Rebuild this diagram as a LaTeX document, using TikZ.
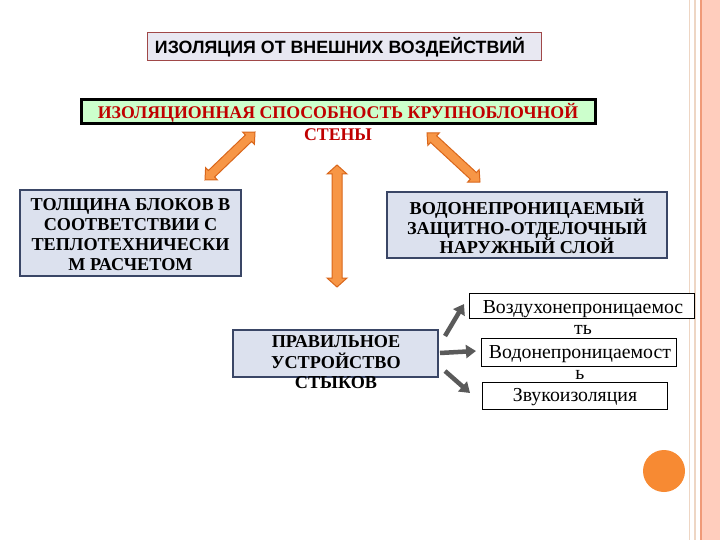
\documentclass[tikz,border=0pt]{standalone}
\usepackage{fontspec}
\setmainfont{Liberation Serif}
\newfontfamily\titlefont{Liberation Sans}
\usetikzlibrary{arrows.meta,calc}
\definecolor{titlefill}{HTML}{E8E8F2}
\definecolor{titleborder}{HTML}{A04848}
\definecolor{mainfill}{HTML}{CCFFCC}
\definecolor{maintext}{HTML}{C00000}
\definecolor{bluefill}{HTML}{DCE1EE}
\definecolor{blueborder}{HTML}{3A4666}
\definecolor{orfill}{HTML}{F79646}
\definecolor{ordraw}{HTML}{D9661A}
\definecolor{greyarrow}{HTML}{5A5A5A}
\definecolor{stripefill}{HTML}{FFCDBD}
\definecolor{stripeline}{HTML}{F09A78}
\definecolor{stripethin}{HTML}{EED6C4}
\definecolor{circlefill}{HTML}{F78A33}
\newcommand{\blockarrow}[4]{% from, to, half head width, half shaft width
  \draw[orarrow] (#1) -- ($(#1)!9pt!(#2)!#3!90:(#2)$) -- ($(#1)!9pt!(#2)!#4!90:(#2)$)
   -- ($(#2)!9pt!(#1)!#4!-90:(#1)$) -- ($(#2)!9pt!(#1)!#3!-90:(#1)$) -- (#2)
   -- ($(#2)!9pt!(#1)!#3!90:(#1)$) -- ($(#2)!9pt!(#1)!#4!90:(#1)$)
   -- ($(#1)!9pt!(#2)!#4!-90:(#2)$) -- ($(#1)!9pt!(#2)!#3!-90:(#2)$) -- cycle;}
\begin{document}
\begin{tikzpicture}[x=1pt,y=-1pt,
  titlebox/.style={draw=titleborder, line width=1pt, fill=titlefill, inner sep=0pt},
  mainbox/.style={draw=black, line width=3pt, fill=mainfill, inner sep=0pt},
  bluebox/.style={draw=blueborder, line width=1.2pt, fill=bluefill, inner sep=0pt},
  smallbox/.style={draw=black, line width=0.9pt, fill=white, inner sep=0pt},
  boldtext/.style={inner sep=0pt, align=center, font=\fontsize{18.2}{19.8}\selectfont\bfseries},
  smalltext/.style={inner sep=0pt, align=center, font=\fontsize{19.8}{21}\selectfont},
  orarrow/.style={draw=ordraw, line width=1pt, fill=orfill, line join=miter},
  greyconn/.style={draw=greyarrow, line width=4.5pt, -{Triangle[width=13pt,length=10pt]}}]
\useasboundingbox (0,0) rectangle (720,540);
\fill[white] (0,0) rectangle (720,540);
% right decoration
\fill[stripefill] (702,0) rectangle (720,540);
\draw[stripeline, line width=1.5pt] (701,0) -- (701,540);
\draw[stripethin, line width=1pt] (689,0) -- (689,540);
\draw[stripethin, line width=2pt] (694.5,0) -- (694.5,540);
% title
\node[titlebox, minimum width=394pt, minimum height=28pt] (title) at (344,47) {};
\node[inner sep=0pt, font=\titlefont\fontsize{17.8}{20}\selectfont\bfseries] (titletxt) at (340,47) {ИЗОЛЯЦИЯ ОТ ВНЕШНИХ ВОЗДЕЙСТВИЙ};
% main box
\node[mainbox, minimum width=514pt, minimum height=24pt] (main) at (338.5,111.5) {};
\node[boldtext, text=maintext, font=\fontsize{17.8}{22}\selectfont\bfseries] (maintxt) at (338,122) {ИЗОЛЯЦИОННАЯ СПОСОБНОСТЬ КРУПНОБЛОЧНОЙ\\СТЕНЫ};
% left box
\node[bluebox, minimum width=221pt, minimum height=86pt] (left) at (130.5,233) {};
\node[boldtext] (lefttxt) at (130.5,234.5) {ТОЛЩИНА БЛОКОВ В\\СООТВЕТСТВИИ С\\ТЕПЛОТЕХНИЧЕСКИ\\М РАСЧЕТОМ};
% right box
\node[bluebox, minimum width=280pt, minimum height=66pt] (right) at (527,225) {};
\node[boldtext] (righttxt) at (527,226.5) {ВОДОНЕПРОНИЦАЕМЫЙ\\ЗАЩИТНО-ОТДЕЛОЧНЫЙ\\НАРУЖНЫЙ СЛОЙ};
% middle box
\node[bluebox, minimum width=205pt, minimum height=47pt] (mid) at (335.5,353.5) {};
\node[boldtext, font=\fontsize{18.2}{20.5}\selectfont\bfseries] (midtxt) at (336,362.5) {ПРАВИЛЬНОЕ\\УСТРОЙСТВО\\СТЫКОВ};
% small boxes
\node[smallbox, minimum width=225pt, minimum height=25pt] (s1) at (581.5,305.5) {};
\node[smalltext] (s1txt) at (583,317.5) {Воздухонепроницаемос\\ть};
\node[smallbox, minimum width=195pt, minimum height=28pt] (s2) at (578.5,352) {};
\node[smalltext] (s2txt) at (580,362.5) {Водонепроницаемост\\ь};
\node[smallbox, minimum width=185pt, minimum height=27pt] (s3) at (574.5,395.5) {};
\node[smalltext] (s3txt) at (575,397) {Звукоизоляция};
% orange double arrows
\coordinate (a1s) at (205,180); \coordinate (a1e) at (255,132);
\coordinate (a2s) at (427,133); \coordinate (a2e) at (480,182);
\coordinate (a3s) at (337,165); \coordinate (a3e) at (337,287);
\blockarrow{a1s}{a1e}{8.5pt}{4.5pt}
\blockarrow{a2s}{a2e}{8.5pt}{4.5pt}
\blockarrow{a3s}{a3e}{10pt}{5pt}
% grey arrows
\coordinate (g1s) at (445,336); \coordinate (g1e) at (464,304);
\coordinate (g2s) at (440,353); \coordinate (g2e) at (476,351);
\coordinate (g3s) at (445,371); \coordinate (g3e) at (470,393);
\draw[greyconn] (g1s) -- (g1e);
\draw[greyconn] (g2s) -- (g2e);
\draw[greyconn] (g3s) -- (g3e);
% circle
\node[circle, fill=circlefill, minimum size=42pt, inner sep=0pt] (dot) at (664,471) {};
\end{tikzpicture}
\end{document}
